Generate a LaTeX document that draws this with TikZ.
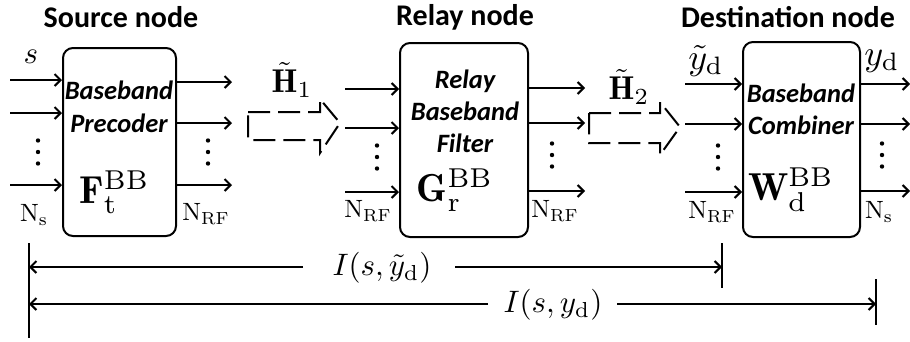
\documentclass[tikz,border=0pt]{standalone}
\usepackage{amsmath}
\usepackage{fontspec}
\newfontfamily\calib{Carlito}
\usetikzlibrary{arrows.meta}
\tikzset{
  blk/.style={draw, line width=2pt, rounded corners=10pt, inner sep=0pt},
  arr/.style={line width=2pt, -{Straight Barb[length=6pt,width=12pt]}},
  dimln/.style={line width=2pt},
  ttl/.style={font=\calib\bfseries\fontsize{30}{32}\selectfont, inner sep=0pt},
  inn/.style={font=\calib\bfseries\itshape\fontsize{26.5}{28}\selectfont, inner sep=0pt},
  bigm/.style={inner sep=0pt, scale=3.9, transform shape},
  nlab/.style={inner sep=0pt, scale=2.5, transform shape},
  hlab/.style={inner sep=0pt, scale=3.3, transform shape},
  slab/.style={inner sep=0pt, scale=3.1, transform shape},
  ylab/.style={inner sep=0pt, scale=3.6, transform shape},
  ilab/.style={inner sep=0pt, scale=3.1, transform shape},
  chan/.style={line width=2pt, dash pattern=on 22pt off 8pt, line join=miter},
}
\begin{document}
\begin{tikzpicture}[x=1pt,y=-1pt]
\useasboundingbox (0,0) rectangle (910,341);

% titles
\node[ttl] (tsrc) at (121,17) {Source node};
\node[ttl] (trel) at (465,17) {Relay node};
\node[ttl] (tdst) at (788,17) {Destination node};

% boxes
\node[blk, minimum width=113pt, minimum height=188pt] (src) at (119.5,142) {};
\node[blk, minimum width=128pt, minimum height=194pt] (rel) at (464,140) {};
\node[blk, minimum width=117pt, minimum height=195pt] (dst) at (801.5,139.5) {};

% box texts
\node[inn] (s1) at (119,90) {Baseband};
\node[inn] (s2) at (119,123) {Precoder};
\node[bigm] (sF) at (114.5,192) {$\mathbf{F}_{\mathrm{t}}^{\mathrm{BB}}$};

\node[inn] (r1) at (465,81) {Relay};
\node[inn] (r2) at (465,111) {Baseband};
\node[inn] (r3) at (465,143) {Filter};
\node[bigm] (rG) at (455,190) {$\mathbf{G}_{\mathrm{r}}^{\mathrm{BB}}$};

\node[inn] (d1) at (801,93) {Baseband};
\node[inn] (d2) at (801,125) {Combiner};
\node[bigm] (dW) at (791,190) {$\mathbf{W}_{\mathrm{d}}^{\mathrm{BB}}$};

% source inputs
\coordinate (si1) at (10,80);
\coordinate (si2) at (10,113);
\coordinate (si3) at (10,185);
\draw[arr] (si1) -- (si1 -| src.west);
\draw[arr] (si2) -- (si2 -| src.west);
\draw[arr] (si3) -- (si3 -| src.west);
% source outputs
\coordinate (so1) at (232,82);
\coordinate (so2) at (232,123);
\coordinate (so3) at (232,185);
\draw[arr] (so1 -| src.east) -- (so1);
\draw[arr] (so2 -| src.east) -- (so2);
\draw[arr] (so3 -| src.east) -- (so3);

% relay inputs
\coordinate (ri1) at (345,89);
\coordinate (ri2) at (345,128);
\coordinate (ri3) at (345,192);
\draw[arr] (ri1) -- (ri1 -| rel.west);
\draw[arr] (ri2) -- (ri2 -| rel.west);
\draw[arr] (ri3) -- (ri3 -| rel.west);
% relay outputs
\coordinate (ro1) at (585,88);
\coordinate (ro2) at (585,123);
\coordinate (ro3) at (585,191);
\draw[arr] (ro1 -| rel.east) -- (ro1);
\draw[arr] (ro2 -| rel.east) -- (ro2);
\draw[arr] (ro3 -| rel.east) -- (ro3);

% destination inputs
\coordinate (di1) at (685,84);
\coordinate (di2) at (685,124);
\coordinate (di3) at (685,192);
\draw[arr] (di1) -- (di1 -| dst.west);
\draw[arr] (di2) -- (di2 -| dst.west);
\draw[arr] (di3) -- (di3 -| dst.west);
% destination outputs
\coordinate (do1) at (910,84);
\coordinate (do2) at (910,124);
\coordinate (do3) at (910,191);
\draw[arr] (do1 -| dst.east) -- (do1);
\draw[arr] (do2 -| dst.east) -- (do2);
\draw[arr] (do3 -| dst.east) -- (do3);

% vertical dots
\foreach \x/\y in {38/152, 208/152, 377/157, 552/155, 718/157, 882/155}{
  \fill (\x,\y-11.5) circle (2.2pt);
  \fill (\x,\y) circle (2.2pt);
  \fill (\x,\y+11.5) circle (2.2pt);
}

% port labels
\node[slab] (ls) at (31,57) {$s$};
\node[nlab] (lns1) at (34,215) {$\mathrm{N}_{\mathrm{s}}$};
\node[nlab] (lnrf1) at (206,214) {$\mathrm{N}_{\mathrm{RF}}$};
\node[nlab] (lnrf2) at (368,211) {$\mathrm{N}_{\mathrm{RF}}$};
\node[nlab] (lnrf3) at (555,211) {$\mathrm{N}_{\mathrm{RF}}$};
\node[nlab] (lnrf4) at (712,212) {$\mathrm{N}_{\mathrm{RF}}$};
\node[nlab] (lns2) at (879,212) {$\mathrm{N}_{\mathrm{s}}$};
\node[ylab] (lyt) at (706,61) {$\tilde{y}_{\mathrm{d}}$};
\node[ylab] (ly) at (882,61) {$y_{\mathrm{d}}$};

% channels
\node[hlab] (h1) at (292,80) {$\tilde{\mathbf{H}}_{1}$};
\node[hlab] (h2) at (629,87) {$\tilde{\mathbf{H}}_{2}$};
\draw[chan] (248,112) -- (320,112) -- (320,99) -- (340,123) -- (320,153) -- (320,140) -- (248,140) -- cycle;
\draw[chan] (589,113) -- (660,113) -- (660,102) -- (680,127) -- (660,155) -- (660,143) -- (589,143) -- cycle;

% mutual information dimension lines
\coordinate (va) at (29,243);
\coordinate (vb) at (29,338);
\coordinate (wa) at (722,243);
\coordinate (wb) at (722,288);
\coordinate (xa) at (876,279);
\coordinate (xb) at (876,325);
\draw[dimln] (va) -- (vb);
\draw[dimln] (wa) -- (wb);
\draw[dimln] (xa) -- (xb);
\node[ilab] (i1) at (382,268) {$I(s,\tilde{y}_{\mathrm{d}})$};
\node[ilab] (i2) at (553,305) {$I(s,y_{\mathrm{d}})$};
\coordinate (g1l) at (303,267);
\coordinate (g1r) at (455,267);
\coordinate (g2l) at (488,304);
\coordinate (g2r) at (617,304);
\draw[arr] (g1l) -- (va |- g1l);
\draw[arr] (g1r) -- (wa |- g1r);
\draw[arr] (g2l) -- (va |- g2l);
\draw[arr] (g2r) -- (xa |- g2r);
\end{tikzpicture}
\end{document}
